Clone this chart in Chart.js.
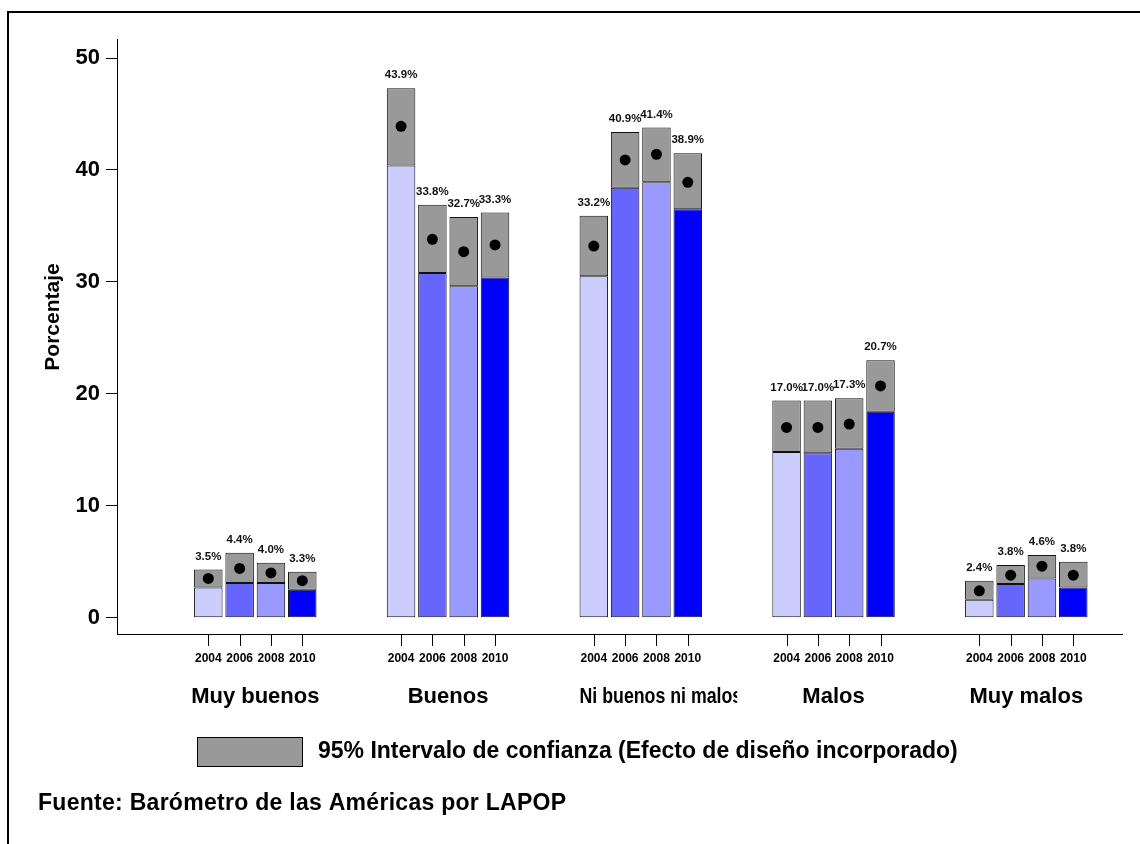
<!DOCTYPE html>
<html><head><meta charset="utf-8">
<script src="https://cdn.jsdelivr.net/npm/chart.js@4/dist/chart.umd.min.js"></script>
<style>html,body{margin:0;padding:0;background:#fff;}</style>
</head><body>
<canvas id="c" width="1140" height="844"></canvas>
<script>
const categories = ['Muy buenos', 'Buenos', 'Ni buenos ni malos', 'Malos', 'Muy malos'];
const years = ['2004', '2006', '2008', '2010'];
const mean2004 = [3.5, 43.9, 33.2, 17.0, 2.4];
const low2004  = [2.7, 40.4, 30.5, 14.8, 1.6];
const high2004 = [4.3, 47.3, 35.9, 19.4, 3.3];
const mean2006 = [4.4, 33.8, 40.9, 17.0, 3.8];
const low2006  = [3.1, 30.8, 38.4, 14.7, 3.0];
const high2006 = [5.8, 36.9, 43.4, 19.4, 4.7];
const mean2008 = [4.0, 32.7, 41.4, 17.3, 4.6];
const low2008  = [3.1, 29.6, 38.9, 15.1, 3.5];
const high2008 = [4.9, 35.8, 43.8, 19.6, 5.6];
const mean2010 = [3.3, 33.3, 38.9, 20.7, 3.8];
const low2010  = [2.5, 30.4, 36.5, 18.4, 2.7];
const high2010 = [4.1, 36.2, 41.5, 23.0, 5.0];
const yTicks = [0, 10, 20, 30, 40, 50];
const yearColors = ['#ccccff', '#6666ff', '#9999ff', '#0000ff'];
const ciColor = '#999999';
const legendText = '95% Intervalo de confianza (Efecto de diseño incorporado)';
const sourceText = 'Fuente: Barómetro de las Américas por LAPOP';
const yTitle = 'Porcentaje';

const means = [mean2004, mean2006, mean2008, mean2010];
const lows = [low2004, low2006, low2008, low2010];
const highs = [high2004, high2006, high2008, high2010];

const FONT = "'Liberation Sans', Arial, Helvetica, sans-serif";
const datasets = [];
const ciIndex = [];
years.forEach((yr, j) => {
  datasets.push({
    label: yr,
    data: lows[j].map((v, i) => ({x: i, y: v})),
    stack: 's' + yr,
    backgroundColor: yearColors[j],
    borderColor: '#111', borderWidth: 1, borderSkipped: false,
    categoryPercentage: 0.65, barPercentage: 0.91
  });
  ciIndex.push(datasets.length);
  datasets.push({
    label: yr + ' IC',
    data: lows[j].map((v, i) => ({x: i, y: [v, highs[j][i]]})),
    stack: 's' + yr,
    backgroundColor: ciColor,
    borderColor: '#111', borderWidth: 1, borderSkipped: false,
    categoryPercentage: 0.65, barPercentage: 0.91
  });
});

function fitText(ctx, text, x, y, width) {
  ctx.letterSpacing = '0px';
  const w = ctx.measureText(text).width;
  if (width && text.length > 1) {
    ctx.letterSpacing = ((width - w) / (text.length - 1)).toFixed(2) + 'px';
  }
  ctx.fillText(text, x, y);
  ctx.letterSpacing = '0px';
}

const overlay = {
  id: 'overlay',
  afterDatasetsDraw(chart) {
    const ctx = chart.ctx, ys = chart.scales.y, xs = chart.scales.x, ca = chart.chartArea;
    ctx.save();
    ctx.strokeStyle = '#000'; ctx.lineWidth = 1; ctx.fillStyle = '#000';
    // x axis line
    ctx.beginPath();
    ctx.moveTo(ca.left, Math.round(ca.bottom) + 0.5);
    ctx.lineTo(ca.right, Math.round(ca.bottom) + 0.5);
    ctx.stroke();
    ciIndex.forEach((di, j) => {
      const meta = chart.getDatasetMeta(di);
      meta.data.forEach((el, i) => {
        const x = Math.round(el.x) + 0.5;
        ctx.beginPath(); ctx.moveTo(x, ca.bottom); ctx.lineTo(x, ca.bottom + 12); ctx.stroke();
        ctx.font = 'bold 12px ' + FONT; ctx.textAlign = 'center'; ctx.textBaseline = 'middle';
        ctx.fillText(years[j], el.x, ca.bottom + 25);
        const yv = ys.getPixelForValue(means[j][i]);
        ctx.beginPath(); ctx.arc(el.x, yv, 5.5, 0, Math.PI * 2); ctx.fill();
        ctx.font = 'bold 11.5px ' + FONT; ctx.fillStyle = '#111';
        ctx.fillText(means[j][i].toFixed(1) + '%', el.x, el.y - 13);
        ctx.fillStyle = '#000';
      });
    });
    // category labels, clipped to their group
    const first = chart.getDatasetMeta(ciIndex[0]).data;
    const last = chart.getDatasetMeta(ciIndex[ciIndex.length - 1]).data;
    categories.forEach((c, i) => {
      const cx = (first[i].x + last[i].x) / 2;
      const l = xs.getPixelForValue(i - 0.5), r = xs.getPixelForValue(i + 0.5);
      ctx.save();
      ctx.beginPath(); ctx.rect(l, ca.bottom + 40, r - l, 50); ctx.clip();
      ctx.font = 'bold 22px ' + FONT; ctx.textBaseline = 'middle';
      const w = ctx.measureText(c).width;
      if (w > (r - l) - 4) {
        // too long for its slot: squeezed from the first bar's edge, cut at the slot edge
        const left = first[i].x - first[i].width / 2;
        const sx = (r - left + 5) / w;
        ctx.translate(left, ca.bottom + 63);
        ctx.scale(sx, 1);
        ctx.textAlign = 'left';
        ctx.fillText(c, 0, 0);
      } else {
        ctx.textAlign = 'center';
        ctx.fillText(c, cx, ca.bottom + 63);
      }
      ctx.restore();
    });
    ctx.restore();
  },
  afterDraw(chart) {
    const ctx = chart.ctx;
    ctx.save();
    ctx.fillStyle = '#000';
    // frame
    ctx.fillRect(7, 11, 1133, 2);
    ctx.fillRect(7, 11, 2, 833);
    // y title
    ctx.save();
    ctx.translate(53, 317); ctx.rotate(-Math.PI / 2);
    ctx.font = 'bold 21px ' + FONT; ctx.textAlign = 'center'; ctx.textBaseline = 'middle';
    ctx.fillText(yTitle, 0, 0);
    ctx.restore();
    // legend
    ctx.fillStyle = ciColor; ctx.fillRect(197.5, 737.5, 105, 29);
    ctx.strokeStyle = '#000'; ctx.lineWidth = 1; ctx.strokeRect(197.5, 737.5, 105, 29);
    ctx.fillStyle = '#000';
    ctx.font = 'bold 23px ' + FONT; ctx.textAlign = 'left'; ctx.textBaseline = 'middle';
    fitText(ctx, legendText, 318, 752, 640);
    ctx.font = 'bold 23px ' + FONT;
    fitText(ctx, sourceText, 38, 804, 528);
    ctx.restore();
  }
};

new Chart(document.getElementById('c'), {
  type: 'bar',
  data: {datasets},
  plugins: [overlay],
  options: {
    responsive: false, animation: false, devicePixelRatio: 1,
    layout: {padding: {top: 39, right: 17, bottom: 210, left: 0}},
    plugins: {legend: {display: false}, tooltip: {enabled: false}},
    scales: {
      x: {
        type: 'linear', min: -0.7175, max: 4.5017, display: false, offset: false,
        afterBuildTicks: s => { s.ticks = categories.map((c, i) => ({value: i})); }
      },
      y: {
        min: -1.46, max: 51.7, stacked: false,
        afterFit: s => { s.width = 117; },
        afterBuildTicks: s => { s.ticks = yTicks.map(v => ({value: v})); },
        grid: {drawOnChartArea: false, tickLength: 11, color: '#000', tickWidth: 1},
        border: {color: '#000', width: 1},
        ticks: {color: '#000', font: {family: FONT, size: 22, weight: 'bold'}, padding: 6}
      }
    }
  }
});
</script>
</body></html>
